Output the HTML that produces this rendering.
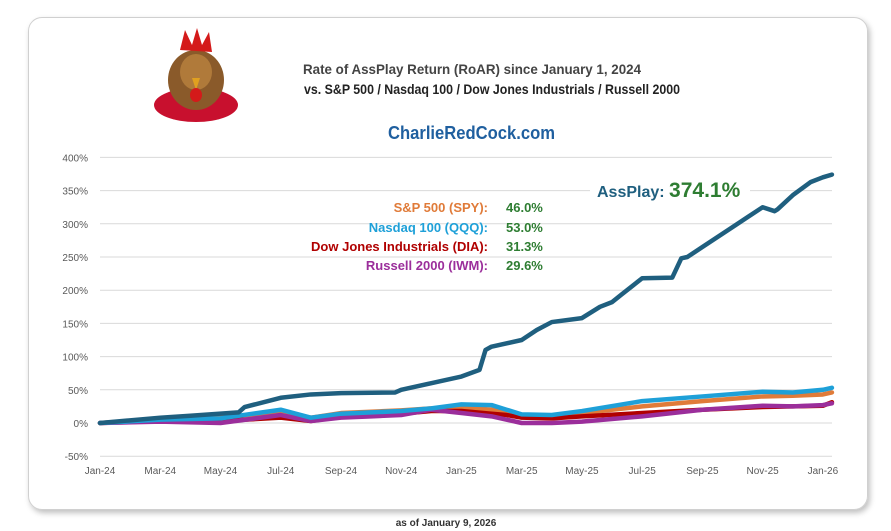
<!DOCTYPE html>
<html><head><meta charset="utf-8"><style>
body{margin:0;width:891px;height:531px;background:#fff;font-family:"Liberation Sans",sans-serif;overflow:hidden;position:relative}
.card{position:absolute;left:28px;top:17px;width:838px;height:491px;border:1px solid #d0d0d0;border-radius:14px;box-shadow:2px 3px 6px rgba(0,0,0,.25)}
</style></head><body>
<div class="card"></div>
<svg width="891" height="531" style="position:absolute;left:0;top:0">
<g>
<ellipse cx="196" cy="105" rx="42" ry="17" fill="#c8102e"/>
<ellipse cx="196" cy="80" rx="28" ry="30" fill="#8a5a2a"/>
<ellipse cx="196" cy="72" rx="16" ry="18" fill="#b07a3a"/>
<path d="M180 50 L185 30 L192 45 L197 28 L202 45 L209 32 L212 52 Z" fill="#d41a1a"/>
<path d="M192 78 L200 78 L196 90 Z" fill="#e0a020"/>
<ellipse cx="196" cy="95" rx="6" ry="7" fill="#d41a1a"/>
</g>
<text x="303" y="74" textLength="338" lengthAdjust="spacingAndGlyphs" font-size="14" font-weight="bold" fill="#444">Rate of AssPlay Return (RoAR) since January 1, 2024</text>
<text x="304" y="94" textLength="376" lengthAdjust="spacingAndGlyphs" font-size="14" font-weight="bold" fill="#222">vs. S&amp;P 500 / Nasdaq 100 / Dow Jones Industrials  / Russell 2000</text>
<text x="388" y="139" textLength="167" lengthAdjust="spacingAndGlyphs" font-size="18" font-weight="bold" fill="#1f5f9f">CharlieRedCock.com</text>
<g id="grid"></g><g id="series"></g>
<rect x="590" y="172" width="160" height="30" fill="#fff"/>
<text x="597" y="197" font-size="16" font-weight="bold" fill="#1f5f7f">AssPlay: <tspan font-size="21" fill="#2e7d32">374.1%</tspan></text>
<g font-size="13" font-weight="bold">
<text x="488" y="212" text-anchor="end" fill="#e07b39">S&amp;P 500 (SPY):</text>
<text x="488" y="232" text-anchor="end" fill="#1ea0d8">Nasdaq 100 (QQQ):</text>
<text x="488" y="251" text-anchor="end" fill="#b00000">Dow Jones Industrials  (DIA):</text>
<text x="488" y="270" text-anchor="end" fill="#9b2e9b">Russell 2000 (IWM):</text>
<g fill="#2e7d32"><text x="506" y="212">46.0%</text><text x="506" y="232">53.0%</text><text x="506" y="251">31.3%</text><text x="506" y="270">29.6%</text></g>
</g>
<text x="446" y="526" text-anchor="middle" font-size="10" font-weight="bold" fill="#333">as of January 9, 2026</text>
</svg>
<script>
const yTicks=[-50,0,50,100,150,200,250,300,350,400];
const xLabels=["Jan-24","Mar-24","May-24","Jul-24","Sep-24","Nov-24","Jan-25","Mar-25","May-25","Jul-25","Sep-25","Nov-25","Jan-26"];
const apX=[0,1,2,3,4.6,4.8,6,7,8,9.8,10,11,12,12.6,12.8,13,14,14.5,15,16,16.6,17,17.3,18,19,19.3,19.5,20,21,21.5,22,22.4,22.5,23,23.6,24,24.3];
const apY=[0,4,8,11,16,24,38,43,45,46,50,60,70,80,110,115,125,140,152,158,175,182,193,218,219,248,250,265,295,310,325,319,322,343,363,370,374.1];
const mX=[0,2,4,6,7,8,9,10,11,12,13,13.5,14,15,16,18,20,22,23,24,24.3];
const spy=[0,6,8,17,8,15,17,19,22,24,20,18,12,11,15,25,33,40,41,43,46];
const qqq=[0,5,7,20,8,14,16,18,22,28,27,20,13,12,18,33,40,47,46,50,53];
const dia=[0,3,3,8,3,10,12,14,18,18,14,12,8,7,10,15,20,24,25,26,31.3];
const iwm=[0,2,0,12,3,8,10,12,20,15,10,5,0,0,2,10,20,26,25,27,29.6];
const X=m=>100+m*30.12, Y=v=>423-v*0.664;
const NS="http://www.w3.org/2000/svg";
const grid=document.getElementById('grid'), ser=document.getElementById('series');
function mk(tag,at,parent){const e=document.createElementNS(NS,tag);for(const k in at)e.setAttribute(k,at[k]);parent.appendChild(e);return e;}
yTicks.forEach(t=>{
 const l=mk('line',{x1:100,x2:832,y1:Y(t),y2:Y(t),stroke:'#d9d9d9','stroke-width':1},grid);
 
 
 const tx=mk('text',{x:88,y:Y(t)+4,'text-anchor':'end','font-size':10,fill:'#595959'},grid);
 tx.textContent=t+'%';
 
 
});
xLabels.forEach((s,i)=>{
 const tx=mk('text',{x:X(i*2),y:474,'text-anchor':'middle','font-size':10,fill:'#595959'},grid);
 tx.textContent=s;
 
 
});
function line(xs,ys,col,w,name){
 const p=mk('polyline',{points:xs.map((x,i)=>X(x)+','+Y(ys[i])).join(' '),fill:'none',stroke:col,'stroke-width':w,'stroke-linejoin':'round','stroke-linecap':'round'},ser);
 
 
}
line(mX,spy,'#e07b39',4.5,'spy-line');
line(mX,dia,'#b00000',4.5,'dia-line');
line(mX,iwm,'#9b2e9b',4.5,'iwm-line');
line(mX,qqq,'#1ea0d8',4.5,'qqq-line');
line(apX,apY,'#1f5f7f',4.5,'assplay-line');
</script>
</body></html>
